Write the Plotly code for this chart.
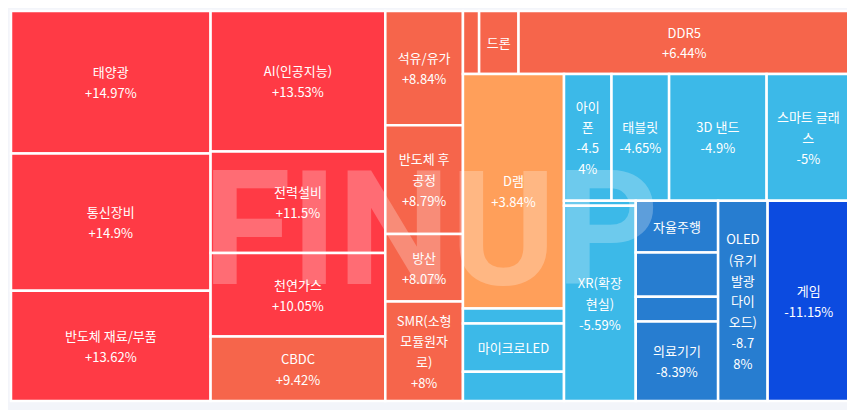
import plotly.graph_objects as go

# 테마 이름, 비중(면적), 등락률(%)
ids = [
    "태양광", "통신장비", "반도체 재료/부품", "AI(인공지능)", "전력설비", "천연가스", "CBDC",
    "석유/유가", "반도체 후공정", "방산", "SMR(소형모듈원자로)",
    "기타1", "드론", "DDR5", "D램", "기타2", "마이크로LED", "기타3",
    "아이폰", "태블릿", "3D 낸드", "스마트 글래스", "기타4", "XR(확장현실)",
    "자율주행", "기타5", "기타6", "의료기기", "OLED(유기발광다이오드)", "게임",
]
weights = [
    27946, 26959, 21626, 24120, 17460, 14350, 11065,
    8720, 8300, 5150, 7600,
    1000, 2438, 20500, 23300, 1500, 4800, 2900,
    5922, 7182, 12159, 10395, 355, 13774,
    4197, 3586, 1997, 6439, 9751, 16219,
]
changes = [
    14.97, 14.9, 13.62, 13.53, 11.5, 10.05, 9.42,
    8.84, 8.79, 8.07, 8.0,
    7.5, 6.9, 6.44, 3.84, -2.1, -3.6, -4.3,
    -4.54, -4.65, -4.9, -5.0, -5.3, -5.59,
    -6.6, -7.2, -7.9, -8.39, -8.78, -11.15,
]

# 칸이 좁아서 줄바꿈/생략되는 라벨
wrapped = {
    "반도체 후공정": "반도체 후<br>공정<br>+8.79%",
    "SMR(소형모듈원자로)": "SMR(소형<br>모듈원자<br>로)<br>+8%",
    "드론": "드론",
    "마이크로LED": "마이크로LED",
    "아이폰": "아이<br>폰<br>-4.5<br>4%",
    "스마트 글래스": "스마트 글래<br>스<br>-5%",
    "XR(확장현실)": "XR(확장<br>현실)<br>-5.59%",
    "자율주행": "자율주행",
    "OLED(유기발광다이오드)": "OLED<br>(유기<br>발광<br>다이<br>오드)<br>-8.7<br>8%",
}


def color_of(v):
    if v >= 10:
        return "#FF3A45"
    if v >= 5:
        return "#F6654B"
    if v >= 0:
        return "#FF9F5A"
    if v > -6:
        return "#3CB9E8"
    if v > -10:
        return "#277DD0"
    return "#0C4BE0"


texts = []
for name, c in zip(ids, changes):
    if name.startswith("기타"):
        t = ""
    elif name in wrapped:
        t = wrapped[name]
    else:
        t = f"{name}<br>{c:+g}%"
    # 줄 간격을 넓히려고 글자는 13px, 줄 높이는 16px 기준
    texts.append(f'<span style="font-size:13px">{t}</span>' if t else "")

fig = go.Figure(go.Treemap(
    ids=ids,
    labels=ids,
    parents=[""] * len(ids),
    values=weights,
    text=texts,
    texttemplate="%{text}",
    textposition="middle center",
    textfont=dict(family="Noto Sans CJK KR", size=16, color="white"),
    marker=dict(colors=[color_of(v) for v in changes],
                line=dict(color="white", width=2.5),
                pad=dict(t=0, l=0, r=0, b=0)),
    sort=False,
    tiling=dict(packing="squarify", squarifyratio=1.618034, pad=0),
    pathbar=dict(visible=False),
    hovertemplate="%{label}<br>%{customdata:+.2f}%<extra></extra>",
    customdata=changes,
))

# 워터마크
fig.add_annotation(
    text="<b>FINUP</b>", x=0.5, y=0.44, xref="paper", yref="paper",
    showarrow=False, opacity=0.25,
    font=dict(family="Roboto", size=160, color="white"),
)

fig.update_layout(
    width=855, height=410,
    margin=dict(l=3, r=13, t=3, b=17),
    paper_bgcolor="#F3F5FA",
    uniformtext=dict(minsize=16, mode="show"),
)

fig.write_html("out.html")
